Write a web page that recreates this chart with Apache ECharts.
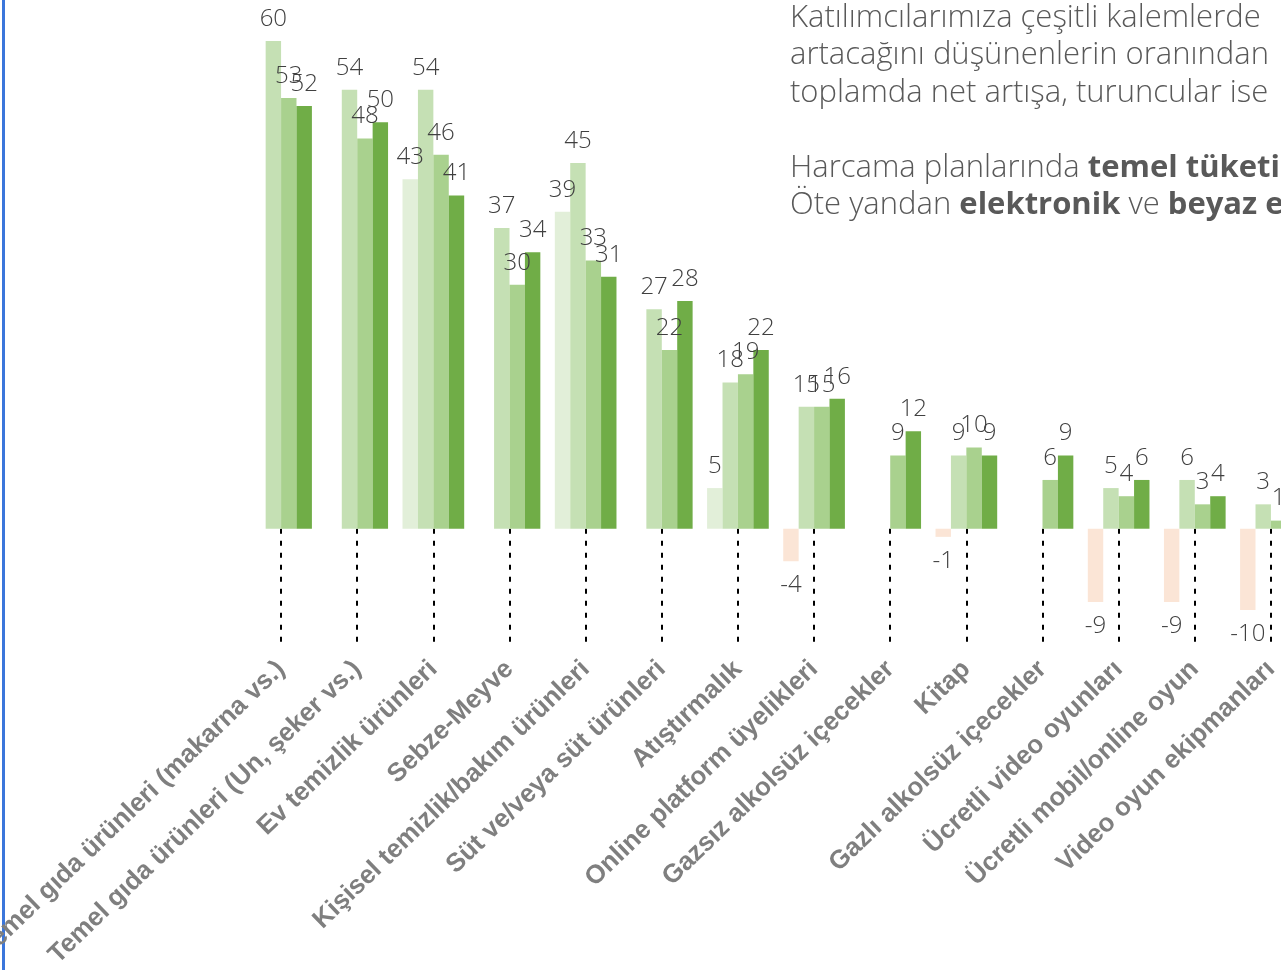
<!DOCTYPE html>
<html>
<head>
<meta charset="utf-8">
<title>Harcama planları</title>
<script src="https://cdn.jsdelivr.net/npm/echarts@6/dist/echarts.min.js"></script>
<style>
  html, body {
    margin: 0;
    padding: 0;
    background: #ffffff;
  }
  #chart {
    width: 1281px;
    height: 970px;
  }
</style>
</head>
<body>
<div id="chart"></div>
<script>
// kategoriler (x ekseni)
const categories = [
  "Temel gıda ürünleri (makarna vs.)",
  "Temel gıda ürünleri (Un, şeker vs.)",
  "Ev temizlik ürünleri",
  "Sebze-Meyve",
  "Kişisel temizlik/bakım ürünleri",
  "Süt ve/veya süt ürünleri",
  "Atıştırmalık",
  "Online platform üyelikleri",
  "Gazsız alkolsüz içecekler",
  "Kitap",
  "Gazlı alkolsüz içecekler",
  "Ücretli video oyunları",
  "Ücretli mobil/online oyun",
  "Video oyun ekipmanları"
];

// net değerler, seri başına (null = çubuk yok)
const seriesA = [null, null, 43, null, 39, null, 5, -4, null, -1, null, -9, -9, -10];
const seriesB = [60, 54, 54, 37, 45, 27, 18, 15, null, 9, null, 5, 6, 3];
const seriesC = [53, 48, 46, 30, 33, 22, 19, 15, 9, 10, 6, 4, 3, 1];
const seriesD = [52, 50, 41, 34, 31, 28, 22, 16, 12, 9, 9, 6, 4, null];

const greens = ["#e2efd9", "#c5e0b4", "#a9d18e", "#70ad47"];
const negColor = "#fbe5d6";

const labelFont = {
  fontFamily: "'Open Sans', Lato, sans-serif",
  fontWeight: 300,
  fontSize: 24,
  color: "#404040"
};

function toItems(values) {
  return values.map((v) => {
    if (v == null) {
      return "-";
    }
    if (v < 0) {
      return {
        value: v,
        itemStyle: { color: negColor },
        label: { position: "bottom", distance: 12 }
      };
    }
    return v;
  });
}

const series = [seriesA, seriesB, seriesC, seriesD].map((values, i) => ({
  type: "bar",
  data: toItems(values),
  barGap: "0%",
  barCategoryGap: "19%",
  itemStyle: { color: greens[i] },
  label: {
    show: true,
    position: "top",
    distance: 10,
    ...labelFont
  }
}));

const chart = echarts.init(document.getElementById("chart"));

const option = {
  animation: false,
  backgroundColor: "#ffffff",
  grid: {
    left: 243,
    right: -28,
    top: 41,
    bottom: 278.7,
    containLabel: false,
    outerBoundsMode: "none"
  },
  xAxis: {
    type: "category",
    data: categories,
    axisLine: { show: false, onZero: true },
    axisTick: {
      show: true,
      alignWithLabel: true,
      length: 118,
      lineStyle: { color: "#000000", width: 2, type: [5, 7] }
    },
    axisLabel: {
      interval: 0,
      rotate: 44,
      margin: -26,
      fontFamily: "'Liberation Sans', Arial, sans-serif",
      fontWeight: "bold",
      fontSize: 26,
      color: "#7f7f7f"
    }
  },
  yAxis: {
    type: "value",
    show: false,
    min: -20,
    max: 60,
    splitLine: { show: false }
  },
  series: series,
  graphic: [
    {
      type: "rect",
      left: 2,
      top: 0,
      shape: { width: 3, height: 970 },
      style: { fill: "#3b76db" }
    },
    {
      type: "text",
      left: 790,
      top: -1,
      style: {
        text:
          "Katılımcılarımıza çeşitli kalemlerde\n" +
          "artacağını düşünenlerin oranından\n" +
          "toplamda net artışa, turuncular ise\n" +
          "\n" +
          "Harcama planlarında {b|temel tüketim}\n" +
          "Öte yandan {b|elektronik} ve {b|beyaz eşya}",
        fontFamily: "'Open Sans', Lato, sans-serif",
        fontWeight: 300,
        fontSize: 31,
        lineHeight: 37.5,
        fill: "#595959",
        rich: {
          b: {
            fontFamily: "'Open Sans', Lato, sans-serif",
            fontWeight: "bold",
            fontSize: 31,
            lineHeight: 37.5,
            fill: "#595959"
          }
        }
      }
    }
  ]
};

chart.setOption(option);
</script>
</body>
</html>
